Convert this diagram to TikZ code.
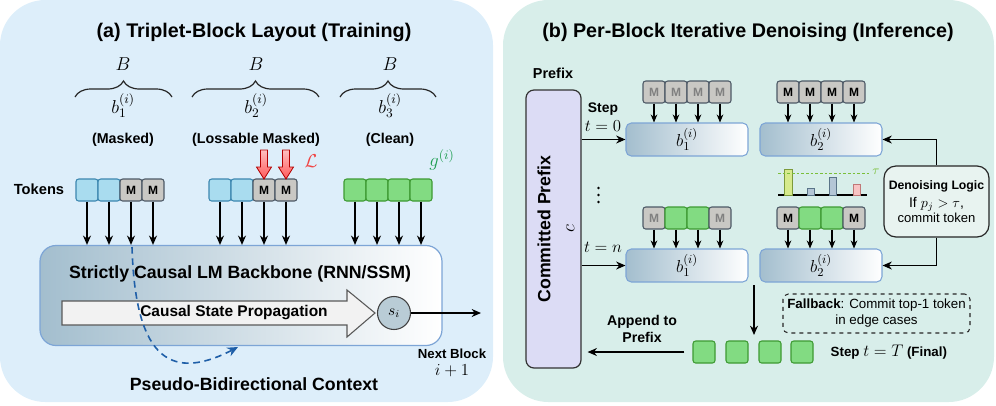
\RequirePackage{fix-cm}
\documentclass[tikz,border=0pt]{standalone}
\usepackage[no-math]{fontspec}
\setmainfont{Liberation Sans}
\usetikzlibrary{arrows.meta,decorations.pathreplacing,calc}
\definecolor{panelA}{HTML}{DDEEFA}
\definecolor{panelB}{HTML}{D8EEEA}
\definecolor{tokBlue}{HTML}{A9DCEF}
\definecolor{tokBlueD}{HTML}{3C87B0}
\definecolor{tokGray}{HTML}{C9C8C4}
\definecolor{tokGrayD}{HTML}{4D5966}
\definecolor{tokGreen}{HTML}{82DB82}
\definecolor{tokGreenD}{HTML}{3E9A33}
\definecolor{bbLeft}{HTML}{A3BECE}
\definecolor{bbBorder}{HTML}{7DA5D6}
\definecolor{prefFill}{HTML}{DCDCF5}
\definecolor{siFill}{HTML}{B9CCD6}
\definecolor{dashBlue}{HTML}{1F5FA8}
\definecolor{lossRed}{HTML}{F04545}
\definecolor{gGreen}{HTML}{1E9E50}
\definecolor{logicFill}{HTML}{E8F3F0}
\definecolor{tauGreen}{HTML}{7ABF3A}
\definecolor{barYG}{HTML}{D6EA8C}
\definecolor{barYGD}{HTML}{7C9A3A}
\definecolor{barBl}{HTML}{B4C6D6}
\definecolor{barBlD}{HTML}{5A7488}
\definecolor{barPk}{HTML}{F8C4C4}
\definecolor{barPkD}{HTML}{C07878}
\begin{document}
\begin{tikzpicture}[x=0.75pt,y=-0.75pt,
  tokbase/.style={rounded corners=2pt, minimum width=16.5pt, minimum height=16.5pt, inner sep=0pt, line width=0.8pt, font=\fontsize{9}{10}\selectfont\bfseries},
  tb/.style={tokbase, fill=tokBlue, draw=tokBlueD},
  tg/.style={tokbase, fill=tokGray, draw=tokGrayD},
  tgl/.style={tokbase, fill=tokGray, draw=tokGrayD, text=black!50},
  tgr/.style={tokbase, fill=tokGreen, draw=tokGreenD},
  arr/.style={-{Stealth[length=7pt,width=6pt]}, line width=0.9pt},
  sarr/.style={-{Stealth[length=6pt,width=5pt]}, line width=0.8pt},
  ttl/.style={font=\fontsize{14.8}{17}\selectfont\bfseries},
  lbl/.style={font=\fontsize{10.7}{12}\selectfont\bfseries},
  mth/.style={font=\fontsize{12.6}{14}\selectfont},
  mthb/.style={font=\fontsize{14}{16}\selectfont},
  gbox/.style={rounded corners=4pt, left color=bbLeft, right color=white, draw=bbBorder, line width=0.8pt, minimum width=91.5pt, minimum height=24.75pt, inner sep=0pt, font=\fontsize{13}{15}\selectfont},
  brc/.style={decorate, decoration={brace, amplitude=12pt}, line width=0.9pt, draw=black!85}
]
\useasboundingbox (0,0) rectangle (996,405);
% panels
\path[fill=panelA, rounded corners=34pt] (0,0) rectangle (493,402);
\path[fill=panelB, rounded corners=34pt] (503,0) rectangle (994,402);

%================ (a) =================
\node[ttl] (ta) at (254,32) {(a) Triplet-Block Layout (Training)};

\draw[brc] (75,97) -- (172,97);
\draw[brc] (192,97) -- (319,97);
\draw[brc] (340,97) -- (436,97);
\node[mthb] (B1) at (123,64) {$B$};
\node[mthb] (B2) at (256,64) {$B$};
\node[mthb] (B3) at (390,64) {$B$};
\node[mthb] (bl1) at (123,106) {$b_1^{(i)}$};
\node[mthb] (bl2) at (256,106) {$b_2^{(i)}$};
\node[mthb] (bl3) at (390,106) {$b_3^{(i)}$};
\node[lbl] (m1) at (123,140) {(Masked)};
\node[lbl] (m2) at (256,140) {(Lossable Masked)};
\node[lbl] (m3) at (390,140) {(Clean)};
\node[lbl, font=\fontsize{11}{12}\selectfont\bfseries] (tk) at (39,189) {Tokens};

\node[tb] (p1) at (87,190) {};
\node[tb] (p2) at (109,190) {};
\node[tg] (p3) at (131,190) {M};
\node[tg] (p4) at (153,190) {M};
\node[tb] (q1) at (220,190) {};
\node[tb] (q2) at (242,190) {};
\node[tg] (q3) at (264,190) {M};
\node[tg] (q4) at (286,190) {M};
\node[tgr] (r1) at (355,190) {};
\node[tgr] (r2) at (377,190) {};
\node[tgr] (r3) at (399,190) {};
\node[tgr] (r4) at (421,190) {};

% red loss arrows
\foreach \x in {264,286}{
  \path[top color=red!25, bottom color=red!65, draw=red!70!black, line width=0.6pt]
    ({\x-3.5},150) -- ({\x+3.5},150) -- ({\x+3.5},167) -- ({\x+7.5},167) -- (\x,179) -- ({\x-7.5},167) -- ({\x-3.5},167) -- cycle;
}
\node[mthb, text=lossRed] (L) at (311,161) {$\mathcal{L}$};
\node[mthb, text=gGreen] (g) at (442,160) {$g^{(i)}$};

% backbone
\node[rounded corners=12pt, left color=bbLeft, right color=white, draw=bbBorder, line width=0.9pt, minimum width=301.5pt, minimum height=75pt] (bb) at (241,295.5) {};
\foreach \t in {p1,p2,p3,p4,q1,q2,q3,q4,r1,r2,r3,r4}{
  \draw[arr] (\t.south) -- (\t.south |- bb.north);
}
\node[font=\fontsize{13.3}{15}\selectfont\bfseries] (bbt) at (240,274) {Strictly Causal LM Backbone (RNN/SSM)};
\path[fill=black!5, draw=black!65, line width=0.8pt]
  (62,301) -- (347,301) -- (347,290) -- (375,313) -- (347,337) -- (347,325) -- (62,325) -- cycle;
\node[font=\fontsize{11.6}{13}\selectfont\bfseries] (csp) at (234,313) {Causal State Propagation};
\node[circle, fill=siFill, draw=black!75, line width=0.8pt, minimum size=24.75pt, inner sep=0pt, font=\fontsize{11.5}{13}\selectfont] (si) at (394,313) {$s_i$};
\coordinate (nbx) at (481,313);
\draw[arr] (si) -- (nbx);
\node[font=\fontsize{9.9}{11}\selectfont\bfseries] (nb) at (452,354) {Next Block};
\node[mth] (nbi) at (452,371) {$i+1$};

\coordinate (ds) at (132,247);
\coordinate (de) at (238,347);
\draw[dashBlue, dashed, dash pattern=on 5pt off 3.5pt, line width=1.2pt, -{Stealth[length=8pt,width=7pt]}]
  (ds) .. controls (135,350) and (165,385) .. (de);
\node[font=\fontsize{13.3}{15}\selectfont\bfseries] (pbc) at (254,384) {Pseudo-Bidirectional Context};

%================ (b) =================
\node[ttl] (tbt) at (748,32) {(b) Per-Block Iterative Denoising (Inference)};
\node[lbl, font=\fontsize{10.8}{12}\selectfont\bfseries] (pfl) at (553,73) {Prefix};
\node[rounded corners=6pt, fill=prefFill, draw=black!80, line width=0.9pt, minimum width=41.25pt, minimum height=208.5pt] (cp) at (553.5,229) {};
\node[rotate=90, align=center, font=\fontsize{13.3}{17}\selectfont\bfseries] (cpt) at (556,229) {Committed Prefix\\[1pt] {\fontsize{14}{16}\selectfont$c$}};

\node[gbox] (b1t) at (687,139.5) {$b_1^{(i)}$};
\node[gbox] (b2t) at (821,139.5) {$b_2^{(i)}$};
\node[gbox] (b1b) at (687,265.5) {$b_1^{(i)}$};
\node[gbox] (b2b) at (821,265.5) {$b_2^{(i)}$};

\node[tgl] (u1) at (654,92) {M};
\node[tgl] (u2) at (676,92) {M};
\node[tgl] (u3) at (698,92) {M};
\node[tgl] (u4) at (720,92) {M};
\node[tg] (v1) at (788,92) {M};
\node[tg] (v2) at (810,92) {M};
\node[tg] (v3) at (832,92) {M};
\node[tg] (v4) at (854,92) {M};
\node[tgl] (w1) at (654,218) {M};
\node[tgr] (w2) at (676,218) {};
\node[tgr] (w3) at (698,218) {};
\node[tgl] (w4) at (720,218) {M};
\node[tg] (z1) at (788,218) {M};
\node[tgr] (z2) at (810,218) {};
\node[tgr] (z3) at (832,218) {};
\node[tg] (z4) at (854,218) {M};
\foreach \t in {u1,u2,u3,u4}{\draw[sarr] (\t.south) -- (\t.south |- b1t.north);}
\foreach \t in {v1,v2,v3,v4}{\draw[sarr] (\t.south) -- (\t.south |- b2t.north);}
\foreach \t in {w1,w2,w3,w4}{\draw[sarr] (\t.south) -- (\t.south |- b1b.north);}
\foreach \t in {z1,z2,z3,z4}{\draw[sarr] (\t.south) -- (\t.south |- b2b.north);}

\node[font=\fontsize{10.4}{12}\selectfont\bfseries] (stp) at (603,109) {Step};
\node[mth] (t0) at (603,126) {$t=0$};
\node[mth] (tn) at (603,247) {$t=n$};
\foreach \yy in {188,195,202}{\fill (598.5,\yy) circle (1pt);}
\draw[arr] (cp.east |- b1t.west) -- (b1t.west);
\draw[arr] (cp.east |- b1b.west) -- (b1b.west);

% bar chart
\draw[line width=0.8pt] (778,195) -- (867,195);
\draw[fill=barYG, draw=barYGD, line width=0.5pt] (784,195) rectangle (792,169);
\draw[fill=barBl, draw=barBlD, line width=0.5pt] (807,195) rectangle (814,188);
\draw[fill=barBl, draw=barBlD, line width=0.5pt] (829,195) rectangle (836,177);
\draw[fill=barPk, draw=barPkD, line width=0.5pt] (853,195) rectangle (860,184);
\draw[tauGreen, dashed, dash pattern=on 2pt off 1.5pt, line width=0.6pt] (778,173) -- (870,173);
\node[text=tauGreen, font=\fontsize{9.5}{10}\selectfont] (tau) at (876,172) {$\tau$};

% denoising logic
\node[rounded corners=9pt, fill=logicFill, draw=black!85, line width=0.9pt, minimum width=78.75pt, minimum height=53.25pt, align=center, inner sep=1pt] (dl) at (936.5,201.5)
  {{\fontsize{9.2}{11}\selectfont\bfseries Denoising Logic}\\[2pt] {\fontsize{10.5}{12}\selectfont If $p_j>\tau$,}\\[-1pt] {\fontsize{9.8}{11}\selectfont commit token}};
\draw[arr] (dl.north) |- (b2t.east);
\draw[arr] (dl.south) |- (b2b.east);

% down arrow and fallback
\coordinate (da1) at (754,285);
\coordinate (da2) at (754,335);
\draw[arr] (da1) -- (da2);
\node[rounded corners=4pt, draw=black!85, dashed, line width=0.8pt, minimum width=140.25pt, minimum height=29.25pt, align=center, inner sep=1pt, font=\fontsize{10}{12}\selectfont] (fb) at (876.5,313.5)
  {\textbf{Fallback}: Commit top-1 token\\ in edge cases};

% final tokens
\node[tgr] (f1) at (704,352) {};
\node[tgr] (f2) at (737,352) {};
\node[tgr] (f3) at (770,352) {};
\node[tgr] (f4) at (802,352) {};
\node[anchor=west, font=\fontsize{10}{12}\selectfont\bfseries] (fin) at (826,352) {Step {\fontsize{12.6}{14}\selectfont$t=T$} (Final)};
\draw[arr, shorten <=6pt, shorten >=4.5pt] (f1.west) -- (cp.east |- f1.west);
\node[align=center, font=\fontsize{10.6}{13}\selectfont\bfseries] (app) at (642,329) {Append to\\Prefix};
\end{tikzpicture}
\end{document}
